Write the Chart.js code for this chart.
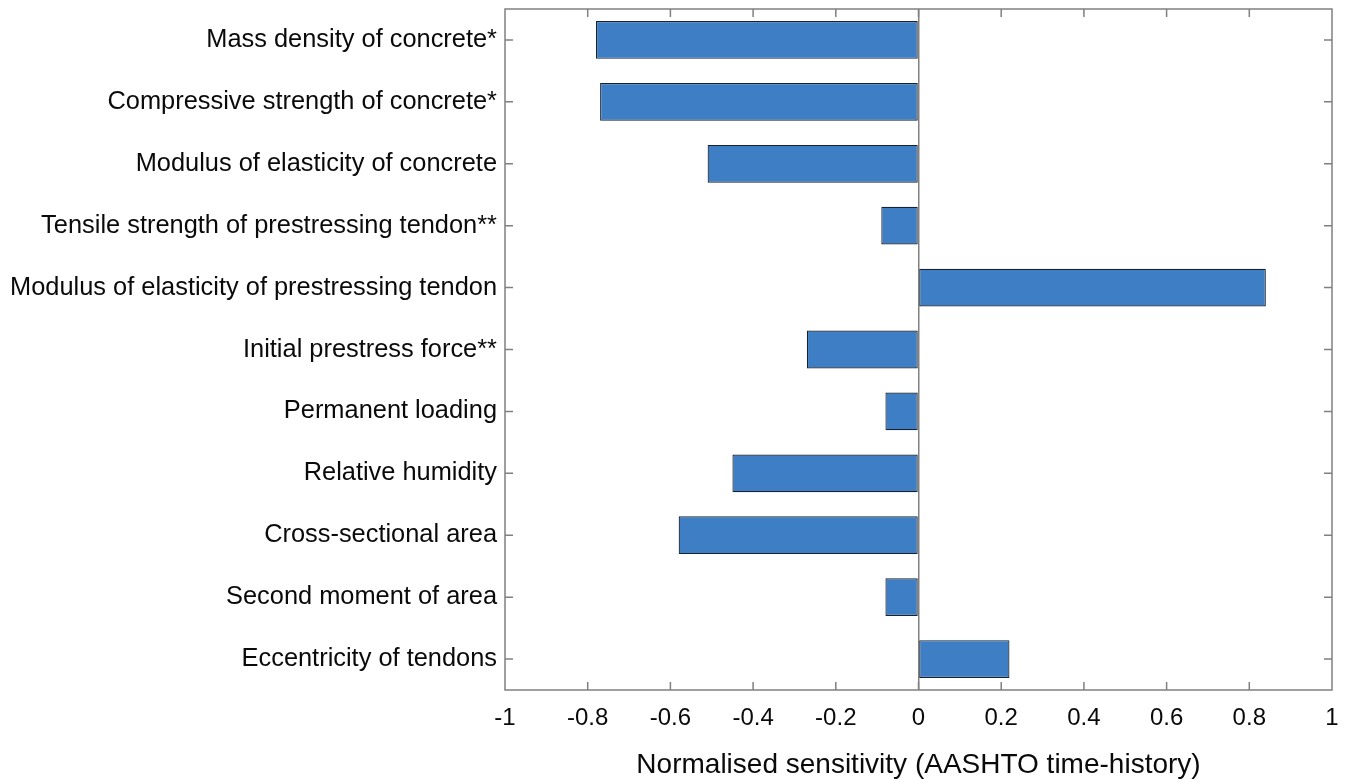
<!DOCTYPE html>
<html>
<head>
<meta charset="utf-8">
<script src="https://cdn.jsdelivr.net/npm/chart.js@4.4.1/dist/chart.umd.min.js"></script>
<style>
  html, body { margin: 0; padding: 0; background: #fff; }
  #wrap { width: 1347px; height: 780px; }
</style>
</head>
<body>
<div id="wrap"><canvas id="sensChart" width="1347" height="780"></canvas></div>
<script>
const categories = [
  'Mass density of concrete*',
  'Compressive strength of concrete*',
  'Modulus of elasticity of concrete',
  'Tensile strength of prestressing tendon**',
  'Modulus of elasticity of prestressing tendon',
  'Initial prestress force**',
  'Permanent loading',
  'Relative humidity',
  'Cross-sectional area',
  'Second moment of area',
  'Eccentricity of tendons'
];
const sensitivity = [-0.78, -0.77, -0.51, -0.09, 0.84, -0.27, -0.08, -0.45, -0.58, -0.08, 0.22];
const xTicks = [-1, -0.8, -0.6, -0.4, -0.2, 0, 0.2, 0.4, 0.6, 0.8, 1];
const xTitle = 'Normalised sensitivity (AASHTO time-history)';

const fontFamily = '"Liberation Sans", Arial, Helvetica, sans-serif';
const frameColor = '#808080';

// frame and inward ticks, like the original figure
const framePlugin = {
  id: 'frame',
  afterDraw(chart) {
    const ctx = chart.ctx;
    const a = chart.chartArea;
    const xs = chart.scales.x;
    const ys = chart.scales.y;
    const len = 8;
    ctx.save();
    ctx.strokeStyle = frameColor;
    ctx.lineWidth = 1.5;
    ctx.strokeRect(a.left, a.top, a.right - a.left, a.bottom - a.top);
    ctx.beginPath();
    xs.ticks.forEach((t, i) => {
      const px = xs.getPixelForTick(i);
      if (px <= a.left + 1 || px >= a.right - 1) return;
      ctx.moveTo(px, a.bottom); ctx.lineTo(px, a.bottom - len);
      ctx.moveTo(px, a.top); ctx.lineTo(px, a.top + len);
    });
    ys.ticks.forEach((t, i) => {
      const py = ys.getPixelForTick(i);
      ctx.moveTo(a.left, py); ctx.lineTo(a.left + len, py);
      ctx.moveTo(a.right, py); ctx.lineTo(a.right - len, py);
    });
    ctx.stroke();
    ctx.restore();
  }
};

new Chart(document.getElementById('sensChart').getContext('2d'), {
  type: 'bar',
  data: {
    labels: categories,
    datasets: [{
      data: sensitivity,
      backgroundColor: '#3d7ec4',
      borderColor: '#17222e',
      borderWidth: 1.2,
      borderSkipped: false,
      barPercentage: 0.61,
      categoryPercentage: 1
    }]
  },
  options: {
    indexAxis: 'y',
    responsive: false,
    animation: false,
    layout: { padding: { top: 9, right: 15, left: 0, bottom: 0 } },
    plugins: { legend: { display: false }, tooltip: { enabled: false } },
    scales: {
      x: {
        min: -1,
        max: 1,
        afterBuildTicks: (scale) => { scale.ticks = xTicks.map(v => ({ value: v })); },
        afterFit: (scale) => { scale.height = 90; scale.paddingLeft = 0; scale.paddingRight = 0; },
        border: { display: false },
        grid: {
          drawTicks: false,
          lineWidth: 1.5,
          color: (c) => (c.tick && c.tick.value === 0) ? frameColor : 'rgba(0,0,0,0)'
        },
        ticks: {
          padding: 14,
          color: '#0a0a0a',
          font: { family: fontFamily, size: 24 },
          callback: (v) => String(v)
        },
        title: {
          display: true,
          text: xTitle,
          color: '#0a0a0a',
          padding: { top: 0, bottom: -2 },
          font: { family: fontFamily, size: 28 }
        }
      },
      y: {
        afterFit: (scale) => { scale.width = 505; scale.paddingTop = 0; scale.paddingBottom = 0; },
        border: { display: false },
        grid: { display: false, drawTicks: false },
        ticks: {
          padding: 8,
          color: '#0a0a0a',
          font: { family: fontFamily, size: 25.4 }
        }
      }
    }
  },
  plugins: [framePlugin]
});
</script>
</body>
</html>
